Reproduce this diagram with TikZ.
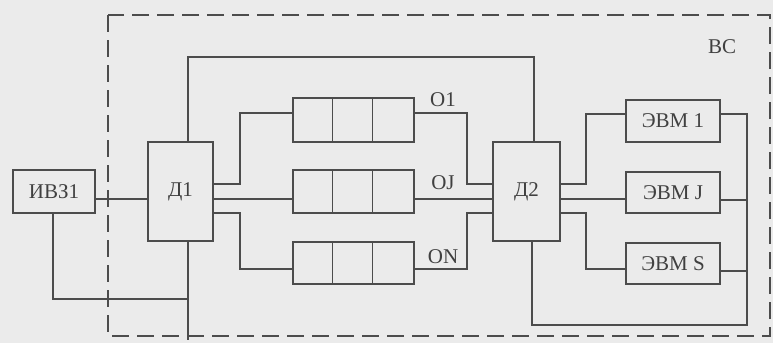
\documentclass[tikz,border=0pt]{standalone}
\usepackage{fontspec}
\setmainfont{Liberation Serif}
\begin{document}
\begin{tikzpicture}[x=1pt,y=-1pt,
  ln/.style={draw=black!70, line width=1.4pt},
  blk/.style={draw=black!70, line width=1.4pt, rectangle, inner sep=0pt, font=\fontsize{21}{23}\selectfont, text=black!75},
  lbl/.style={font=\fontsize{21}{23}\selectfont, text=black!75, inner sep=0pt}]
\fill[black!8] (0,0) rectangle (773,343);
\useasboundingbox (0,0) rectangle (773,343);
\draw[draw=black!70, line width=2.2pt, dash pattern=on 17pt off 8pt] (108,15) rectangle (770,336);
% nodes
\node[blk, minimum width=82pt, minimum height=43pt] (ivz) at (54,191.5) {ИВЗ1};
\node[blk, minimum width=65pt, minimum height=99pt] (d1) at (180.5,191.5) {Д1};
\node[blk, minimum width=67pt, minimum height=99pt] (d2) at (526.5,191.5) {Д2};
\node[blk, minimum width=121pt, minimum height=44pt] (q1) at (353.5,120) {};
\node[blk, minimum width=121pt, minimum height=43pt] (q2) at (353.5,191.5) {};
\node[blk, minimum width=121pt, minimum height=42pt] (q3) at (353.5,263) {};
\foreach \q in {q1,q2,q3}{
  \draw[ln] ([xshift=40pt]\q.north west) -- ([xshift=40pt]\q.south west);
  \draw[ln] ([xshift=80pt]\q.north west) -- ([xshift=80pt]\q.south west);
}
\node[blk, minimum width=94pt, minimum height=42pt] (e1) at (673,121) {ЭВМ 1};
\node[blk, minimum width=94pt, minimum height=41pt] (ej) at (673,192.5) {ЭВМ J};
\node[blk, minimum width=94pt, minimum height=41pt] (es) at (673,263.5) {ЭВМ S};
\node[lbl] (o1) at (443,100) {O1};
\node[lbl] (oj) at (443,183) {OJ};
\node[lbl] (on) at (443,257) {ON};
\node[lbl] (vs) at (722,47) {ВС};
\coordinate (bend) at (188,299);
\coordinate (bot) at (188,340);
% connectors
\draw[ln] (ivz.east |- 0,199) -- (d1.west |- 0,199);
\draw[ln] (ivz.south -| 53,0) -- (53,299) -- (bend);
\draw[ln] (d1.south -| bend) -- (bot);
\draw[ln] (d1.north -| 188,0) -- (188,57) -- (534,57) -- (d2.north -| 534,0);
\draw[ln] (d1.east |- 0,184) -- (240,184) -- (240,113) -- (q1.west |- 0,113);
\draw[ln] (d1.east |- 0,199) -- (q2.west |- 0,199);
\draw[ln] (d1.east |- 0,213) -- (240,213) -- (240,269) -- (q3.west |- 0,269);
\draw[ln] (q1.east |- 0,113) -- (467,113) -- (467,184) -- (d2.west |- 0,184);
\draw[ln] (q2.east |- 0,199) -- (d2.west |- 0,199);
\draw[ln] (q3.east |- 0,269) -- (467,269) -- (467,213) -- (d2.west |- 0,213);
\draw[ln] (d2.east |- 0,184) -- (586,184) -- (586,114) -- (e1.west |- 0,114);
\draw[ln] (d2.east |- 0,199) -- (ej.west |- 0,199);
\draw[ln] (d2.east |- 0,213) -- (586,213) -- (586,269) -- (es.west |- 0,269);
\draw[ln] (e1.east |- 0,114) -- (747,114) -- (747,325) -- (532,325) -- (d2.south -| 532,0);
\draw[ln] (ej.east |- 0,200) -- (747,200);
\draw[ln] (es.east |- 0,271) -- (747,271);
\end{tikzpicture}
\end{document}
